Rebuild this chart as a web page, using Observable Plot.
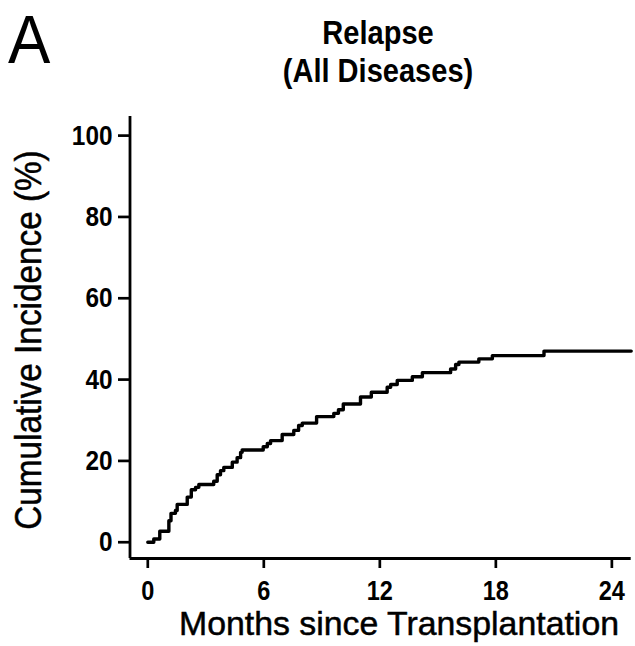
<!DOCTYPE html>
<html><head><meta charset="utf-8">
<script src="https://cdn.jsdelivr.net/npm/d3@7"></script>
<script src="https://cdn.jsdelivr.net/npm/@observablehq/plot@0.6"></script>
<style>
body{margin:0;background:#fff;}
#wrap{position:relative;width:635px;height:646px;overflow:hidden;}
#wrap svg{position:absolute;left:0;top:0;}
</style></head><body><div id="wrap"></div>
<script>
// Step-function points (months, cumulative incidence %)
const months = [0, 0.31, 0.62, 1.09, 1.20, 1.43, 1.52, 2.04, 2.25, 2.47, 2.64, 3.41, 3.59, 3.76, 3.93, 4.37, 4.62, 4.80, 4.88, 5.97, 6.18, 6.35, 6.95, 7.55, 7.80, 7.99, 8.73, 9.62, 9.86, 10.11, 11.0, 11.56, 12.38, 12.56, 12.90, 13.68, 14.20, 15.66, 15.92, 16.09, 17.12, 17.82, 20.49, 25.0];
const incidence = [0, 0.8, 2.7, 5.3, 7.1, 7.8, 9.3, 11.1, 12.9, 13.5, 14.2, 15.0, 16.6, 17.6, 18.4, 19.7, 20.8, 22.1, 22.7, 23.5, 24.3, 25.0, 26.5, 27.5, 28.7, 29.3, 30.9, 31.7, 32.6, 34.0, 35.7, 36.9, 38.1, 38.8, 39.8, 40.7, 41.7, 42.6, 43.7, 44.3, 45.1, 45.9, 47.0, 47.0];
const xTicks = [0, 6, 12, 18, 24];
const yTicks = [0, 20, 40, 60, 80, 100];
const panelLabel = "A";
const titleLines = ["Relapse", "(All Diseases)"];
const xLabel = "Months since Transplantation";
const yLabel = "Cumulative Incidence (%)";

const data = months.map((m, i) => ({month: m, pct: incidence[i]}));
const W = 635, H = 646;
const xDom = [-0.92, 25.0], yDom = [-4.0, 104.7];
const font = "'Liberation Sans', Arial, Helvetica, sans-serif";

const chart = Plot.plot({
  width: W, height: H,
  marginLeft: 129.5, marginRight: 4.3, marginTop: 116, marginBottom: 88,
  x: {domain: xDom},
  y: {domain: yDom},
  style: {background: "white", fontFamily: font, color: "#000"},
  marks: [
    Plot.axisX(xTicks, {tickSize: 10, tickPadding: 12, strokeWidth: 2.7, fontSize: 27, fontWeight: "bold", label: null}),
    Plot.axisY(yTicks, {tickSize: 11.5, tickPadding: 6, strokeWidth: 2.7, fontSize: 28, fontWeight: "bold", label: null}),
    Plot.ruleX([xDom[0]], {strokeWidth: 2.8, stroke: "#000"}),
    Plot.ruleY([yDom[0]], {strokeWidth: 2.8, stroke: "#000"}),
    Plot.line(data, {x: "month", y: "pct", curve: "step-after", stroke: "#000", strokeWidth: 3.4})
  ]
});
const wrap = document.getElementById("wrap");
wrap.appendChild(chart);

// narrow the tick labels horizontally, as in the reference
chart.querySelectorAll('g[aria-label$="tick label"] text').forEach(t => {
  const len = t.getComputedTextLength();
  t.setAttribute("textLength", len * 0.87);
  t.setAttribute("lengthAdjust", "spacingAndGlyphs");
});

// Text overlay
const ns = "http://www.w3.org/2000/svg";
const ov = document.createElementNS(ns, "svg");
ov.setAttribute("width", W); ov.setAttribute("height", H);
ov.style.fontFamily = font;
wrap.appendChild(ov);
function txt(s, x, y, size, weight, anchor, squish, rot, extra) {
  const t = document.createElementNS(ns, "text");
  t.textContent = s;
  t.setAttribute("x", x); t.setAttribute("y", y);
  t.setAttribute("font-size", size);
  t.setAttribute("font-weight", weight);
  t.setAttribute("text-anchor", anchor);
  t.setAttribute("fill", "#000");
  if (extra) { t.setAttribute("stroke", "#000"); t.setAttribute("stroke-width", extra); }
  if (rot) t.setAttribute("transform", rot);
  ov.appendChild(t);
  const len = t.getComputedTextLength();
  t.setAttribute("textLength", len * squish);
  t.setAttribute("lengthAdjust", "spacingAndGlyphs");
}
txt(panelLabel, 8, 63, 69, "normal", "start", 0.92);
txt(titleLines[0], 378, 44, 33, "bold", "middle", 0.88);
txt(titleLines[1], 378, 82, 33, "bold", "middle", 0.88);
txt(xLabel, 399, 635, 34, "normal", "middle", 0.995, null, 0.5);
txt(yLabel, 0, 0, 37, "normal", "middle", 0.9, "translate(41,340) rotate(-90)", 0.5);
</script></body></html>
